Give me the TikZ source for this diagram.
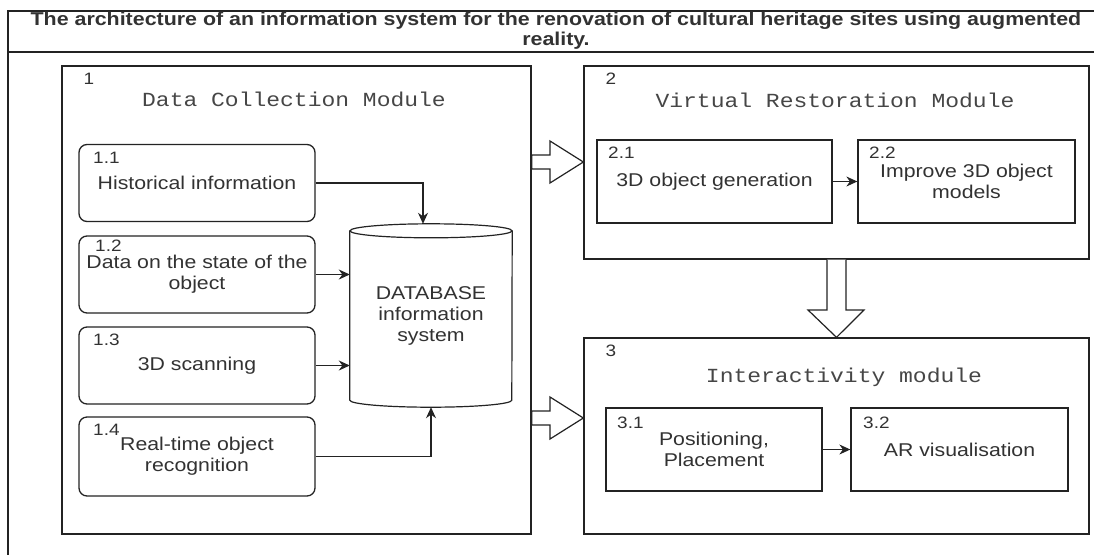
\documentclass[tikz,border=0pt]{standalone}
\usepackage{fontspec}
\setmainfont{Liberation Sans}[FakeStretch=1.15]
\newfontfamily\modfont{Liberation Mono}[FakeStretch=1.15]
\usetikzlibrary{arrows.meta,calc}

\newcommand\boxfont{\fontsize{18.5}{21}\selectfont}
\newcommand\numfont{\fontsize{16.5}{18}\selectfont}

\begin{document}
\begin{tikzpicture}[x=1pt,y=-1pt,
    module/.style 2 args={draw=lines, line width=1.3pt, minimum width=#1, minimum height=#2, inner sep=0pt},
    subbox/.style={draw=lines, line width=1.3pt, minimum width=#1, minimum height=83pt, inner sep=0pt, align=center, text=txt, font=\boxfont},
    srcbox/.style={subbox=236pt, minimum height=77pt, rounded corners=8pt},
    numlabel/.style={anchor=west, inner sep=0pt, text=txt, font=\numfont},
    modtitle/.style={inner sep=0pt, text=modtxt, font=\modfont\fontsize{20}{24}\selectfont},
    flow/.style={draw=lines, line width=1.2pt, -{Stealth[length=11pt,width=10pt]}},
    hollowarrow/.style={draw=lines, line width=1.2pt, fill=white, line join=miter}]
    % Colori
    \definecolor{lines}{RGB}{35,35,35}
    \definecolor{txt}{RGB}{50,50,50}
    \definecolor{modtxt}{RGB}{70,70,70}

    \useasboundingbox (0,0) rectangle (1094,555);

    % Frame and title
    \draw[lines, line width=1.3pt] (1094,11) -- (8,11) -- (8,555);
    \draw[lines, line width=1.3pt] (8,52) -- (1094,52);
    \node[align=center, text=txt, font=\bfseries\fontsize{18.6}{20}\selectfont] (title) at (556,31)
        {The architecture of an information system for the renovation of cultural heritage sites using augmented\\reality.};

    % Modules
    \node[module={469pt}{468pt}] (m1) at (296.5,300) {};
    \node[module={505pt}{193pt}] (m2) at (836.5,162.5) {};
    \node[module={505pt}{196pt}] (m3) at (836.5,436) {};

    \node[numlabel, anchor=center] (n1) at (89,79) {1};
    \node[modtitle] (t1) at (294,99) {Data Collection Module};
    \node[numlabel, anchor=center] (n2) at (611,79) {2};
    \node[modtitle] (t2) at (835,100) {Virtual Restoration Module};
    \node[numlabel, anchor=center] (n3) at (611,351) {3};
    \node[modtitle] (t3) at (844,377) {Interactivity module};

    % Data collection
    \node[srcbox] (hist) at (197,183) {Historical information};
    \node[srcbox] (state) at (197,274.5) {Data on the state of the\\object};
    \node[srcbox] (scan) at (197,365.5) {3D scanning};
    \node[srcbox, minimum height=79pt] (recog) at (197,456.5) {Real-time object\\recognition};
    \node[numlabel] (n11) at (93,158) {1.1};
    \node[numlabel] (n12) at (95,246) {1.2};
    \node[numlabel] (n13) at (93,340) {1.3};
    \node[numlabel] (n14) at (93,430) {1.4};

    % Database
    \node[minimum width=162pt, minimum height=169pt, inner sep=0pt, align=center, text=txt, font=\boxfont] (db) at (431,315.5)
        {DATABASE\\information\\system};
    \draw[lines, line width=1.2pt] (db.north) ellipse [x radius=81pt, y radius=7pt];
    \draw[lines, line width=1.2pt] (db.north west) -- (db.south west)
        arc[start angle=180, end angle=360, x radius=81pt, y radius=7pt] -- (db.north east);

    \draw[flow] (hist.east) -| ([xshift=-8pt,yshift=7pt]db.north);
    \draw[flow] (state.east) -- (state.east -| db.west);
    \draw[flow] (scan.east) -- (scan.east -| db.west);
    \draw[flow] (recog.east) -| ([yshift=-7pt]db.south);

    % Virtual restoration
    \node[subbox=235pt] (gen) at (714.5,181.5) {3D object generation};
    \node[subbox=217pt] (impr) at (966.5,181.5) {Improve 3D object\\models};
    \node[numlabel] (n21) at (608,153) {2.1};
    \node[numlabel] (n22) at (869,153) {2.2};
    \draw[flow] (gen) -- (impr);

    % Interactivity
    \node[subbox=216pt] (pos) at (714,449.5) {Positioning,\\Placement};
    \node[subbox=217pt] (arvis) at (959.5,449.5) {AR visualisation};
    \node[numlabel] (n31) at (617,423) {3.1};
    \node[numlabel] (n32) at (863,423) {3.2};
    \draw[flow] (pos) -- (arvis);

    % Big arrows between modules
    \draw[hollowarrow] (m1.east |- 0,155) -| (550,141) -- (m2.west |- 0,162) -- (550,183) |- (m1.east |- 0,169) -- cycle;
    \draw[hollowarrow] (m1.east |- 0,411) -| (550,397) -- (m3.west |- 0,418) -- (550,439) |- (m1.east |- 0,425) -- cycle;
    \draw[hollowarrow] (m2.south -| 827,0) -- (827,310) -- (808,310) -- (m3.north) -- (864,310) -- (846,310) -- (m2.south -| 846,0);
\end{tikzpicture}
\end{document}
